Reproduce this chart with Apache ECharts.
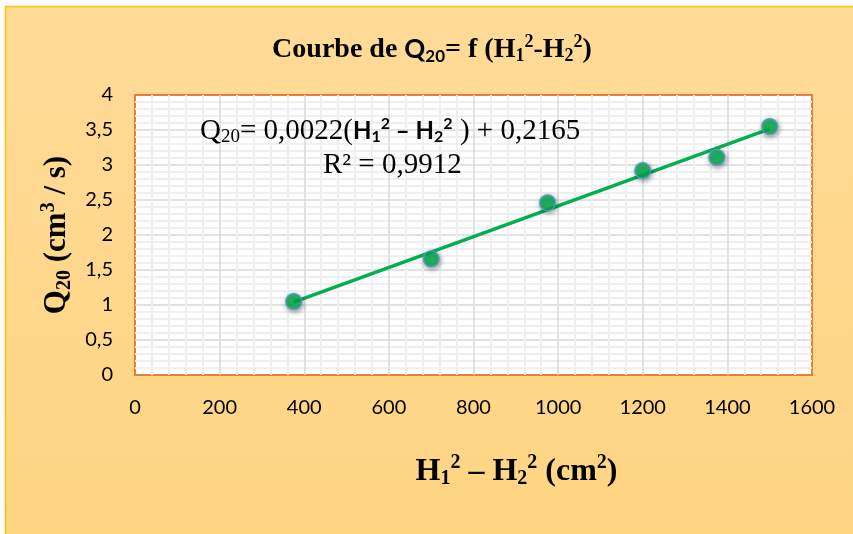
<!DOCTYPE html>
<html>
<head>
<meta charset="utf-8">
<script src="https://cdn.jsdelivr.net/npm/echarts@6/dist/echarts.min.js"></script>
<style>
  html, body { margin: 0; padding: 0; background: #ffffff; }
  #chart { width: 853px; height: 534px; }
</style>
</head>
<body>
<div id="chart"></div>
<script>
// Measured head differences H1² − H2² (cm²) and flow rates Q20 (cm³/s)
const headDiff = [375, 700, 975, 1200, 1375, 1500];
const flowQ20 = [1.05, 1.66, 2.46, 2.92, 3.11, 3.55];

// Linear trend stated in the equation label
const trendSlope = 0.0022;
const trendIntercept = 0.2165;
const trendR2 = '0,9912';

const xTicks = [0, 200, 400, 600, 800, 1000, 1200, 1400, 1600];
const yTicks = [0, 0.5, 1, 1.5, 2, 2.5, 3, 3.5, 4];

const points = headDiff.map((x, i) => [x, flowQ20[i]]);
const xFirst = headDiff[0];
const xLast = headDiff[headDiff.length - 1];
const trendLine = [
  [xFirst, trendSlope * xFirst + trendIntercept],
  [xLast, trendSlope * xLast + trendIntercept]
];

const fmt = v => String(v).replace('.', ',');
const serif = 'Liberation Serif';
const sans = 'Lato';

const chart = echarts.init(document.getElementById('chart'), null, { renderer: 'canvas' });

chart.setOption({
  backgroundColor: '#ffffff',
  animation: false,
  graphic: [
    {
      type: 'rect', z: -10, silent: true,
      shape: { x: 5.5, y: 6.5, width: 900, height: 600 },
      style: {
        fill: new echarts.graphic.LinearGradient(0, 0, 0, 1, [
          { offset: 0, color: '#FFDB98' },
          { offset: 1, color: '#FFD47F' }
        ]),
        stroke: '#FFC000', lineWidth: 1.5
      }
    },
    {
      type: 'text', z: 10, x: 432, y: 50,
      style: {
        text: '{t|Courbe de }{q|Q}{qs|20}{t|= f (H}{sub|1}{sup|2}{t|-H}{sub|2}{sup|2}{t|)}',
        textAlign: 'center', textVerticalAlign: 'middle',
        rich: {
          t: { fontFamily: serif, fontWeight: 'bold', fontSize: 28, fill: '#000' },
          q: { fontFamily: sans, fontWeight: 'bold', fontSize: 26, fill: '#000' },
          qs: { fontFamily: sans, fontWeight: 'bold', fontSize: 17, fill: '#000', padding: [13, 0, 0, 0] },
          sub: { fontFamily: serif, fontWeight: 'bold', fontSize: 18, fill: '#000', padding: [13, 0, 0, 0] },
          sup: { fontFamily: serif, fontWeight: 'bold', fontSize: 18, fill: '#000', padding: [0, 0, 15, 0] }
        }
      }
    },
    {
      type: 'text', z: 10, x: 200, y: 131,
      style: {
        text: '{t|Q}{ts|20}{t|= ' + fmt(trendSlope) + '(}{h|H}{hs|1}{hp|2}{h| – H}{hs|2}{hp|2}{t| ) + ' + fmt(trendIntercept) + '}',
        textVerticalAlign: 'middle',
        rich: {
          t: { fontFamily: serif, fontSize: 29, fill: '#000' },
          ts: { fontFamily: serif, fontSize: 19, fill: '#000', padding: [13, 0, 0, 0] },
          h: { fontFamily: sans, fontWeight: 'bold', fontSize: 24, fill: '#000' },
          hs: { fontFamily: sans, fontWeight: 'bold', fontSize: 16, fill: '#000', padding: [12, 0, 0, 0] },
          hp: { fontFamily: sans, fontWeight: 'bold', fontSize: 16, fill: '#000', padding: [0, 0, 14, 0] }
        }
      }
    },
    {
      type: 'text', z: 10, x: 323, y: 165,
      style: {
        text: 'R² = ' + trendR2,
        textVerticalAlign: 'middle',
        font: '29px "' + serif + '"', fill: '#000'
      }
    }
  ],
  grid: {
    left: 135, right: 41, top: 95, bottom: 159,
    show: true, backgroundColor: '#ffffff',
    borderColor: '#ED7D31', borderWidth: 2
  },
  xAxis: {
    type: 'value', min: xTicks[0], max: xTicks[xTicks.length - 1], interval: 200,
    name: '{t|H}{sub|1}{sup|2}{t| – H}{sub|2}{sup|2}{t| (cm}{sup|2}{t|)}',
    nameLocation: 'middle', nameGap: 78,
    nameTextStyle: {
      padding: [0, 0, 0, 86],
      rich: {
        t: { fontFamily: serif, fontWeight: 'bold', fontSize: 32, color: '#000' },
        sub: { fontFamily: serif, fontWeight: 'bold', fontSize: 20, color: '#000', padding: [15, 0, 0, 0] },
        sup: { fontFamily: serif, fontWeight: 'bold', fontSize: 20, color: '#000', padding: [0, 0, 17, 0] }
      }
    },
    axisLine: { show: false },
    axisTick: { show: false },
    axisLabel: { margin: 23, fontFamily: sans, fontSize: 20, color: '#000', formatter: v => fmt(v) },
    splitLine: { show: true, showMinLine: false, showMaxLine: false, lineStyle: { color: '#D9D9D9', width: 1.5 } },
    minorTick: { show: false, splitNumber: 5 },
    minorSplitLine: { show: true, lineStyle: { color: '#EFEFEF', width: 2 } }
  },
  yAxis: {
    type: 'value', min: yTicks[0], max: yTicks[yTicks.length - 1], interval: 0.5,
    name: '{t|Q}{sub|20}{t| (cm}{sup|3}{t| / s)}',
    nameLocation: 'middle', nameGap: 56, nameRotate: 90,
    nameTextStyle: {
      rich: {
        t: { fontFamily: serif, fontWeight: 'bold', fontSize: 31, color: '#000' },
        sub: { fontFamily: serif, fontWeight: 'bold', fontSize: 20, color: '#000', padding: [15, 0, 0, 0] },
        sup: { fontFamily: serif, fontWeight: 'bold', fontSize: 20, color: '#000', padding: [0, 0, 17, 0] }
      }
    },
    axisLine: { show: false },
    axisTick: { show: false },
    axisLabel: { margin: 22, fontFamily: sans, fontSize: 20, color: '#000', formatter: v => fmt(v) },
    splitLine: { show: true, showMinLine: false, showMaxLine: false, lineStyle: { color: '#D9D9D9', width: 1.5 } },
    minorTick: { show: false, splitNumber: 5 },
    minorSplitLine: { show: true, lineStyle: { color: '#EFEFEF', width: 2 } }
  },
  series: [
    {
      name: 'trend', type: 'line', data: trendLine, z: 2,
      symbol: 'none', silent: true,
      lineStyle: { color: '#00B050', width: 3.5 }
    },
    {
      name: 'Q20', type: 'scatter', data: points, z: 3,
      symbolSize: 16,
      itemStyle: {
        color: '#00B050', borderColor: '#5B9BD5', borderWidth: 1.5,
        shadowBlur: 5, shadowColor: 'rgba(0,0,0,0.45)', shadowOffsetX: 1, shadowOffsetY: 2
      }
    }
  ]
});
</script>
</body>
</html>
